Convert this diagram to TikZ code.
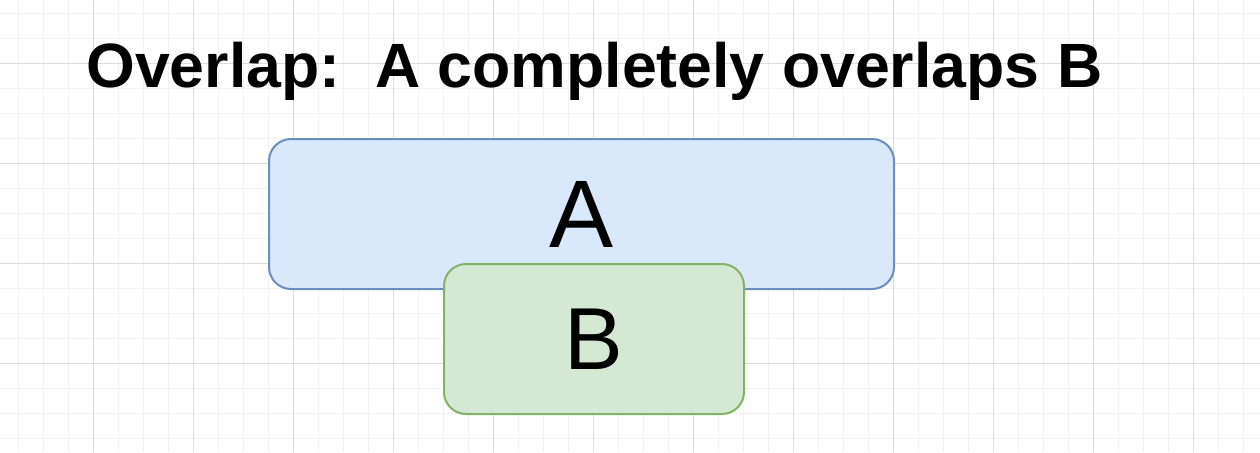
\documentclass[tikz,border=0pt]{standalone}
\usepackage{fontspec}
\setmainfont{Liberation Sans}
\usepackage{xcolor}
\usetikzlibrary{positioning}

\definecolor{boxblue}{HTML}{DAE8FC}
\definecolor{lineblue}{HTML}{6C8EBF}
\definecolor{boxgreen}{HTML}{D5E8D4}
\definecolor{linegreen}{HTML}{82B366}
\definecolor{gridminor}{HTML}{F2F2F2}
\definecolor{gridmajor}{HTML}{DCDCDC}

\begin{document}
\begin{tikzpicture}[
        x=0.5pt, y=-0.5pt,
        setbox/.style={rectangle, rounded corners=11pt, line width=1pt, inner sep=0pt},
        setA/.style={setbox, draw=lineblue, fill=boxblue, minimum width=312.5pt, minimum height=75pt, font=\fontsize{48}{48}\selectfont},
        setB/.style={setbox, draw=linegreen, fill=boxgreen, minimum width=150pt, minimum height=75pt, font=\fontsize{44}{44}\selectfont},
        minorline/.style={draw=gridminor, line width=0.5pt},
        majorline/.style={draw=gridmajor, line width=0.5pt}
    ]
        \useasboundingbox (0,0) rectangle (1260,452);
        % background grid
        \foreach \gx in {18,43,...,1260} \draw[minorline] (\gx,0) -- (\gx,452);
        \foreach \gy in {13,38,...,452} \draw[minorline] (0,\gy) -- (1260,\gy);
        \foreach \gx in {93,193,...,1260} \draw[majorline] (\gx,0) -- (\gx,452);
        \foreach \gy in {63,163,...,452} \draw[majorline] (0,\gy) -- (1260,\gy);

        \node[anchor=base west, inner sep=0pt, font=\bfseries\fontsize{31.3}{31.3}\selectfont] (title) at (86,87) {Overlap:\ \ A completely overlaps B};
        \node[setA] (setA) at (581.5,214) {A};
        \node[setB] (setB) at (594,339) {B};
    \end{tikzpicture}
\end{document}
